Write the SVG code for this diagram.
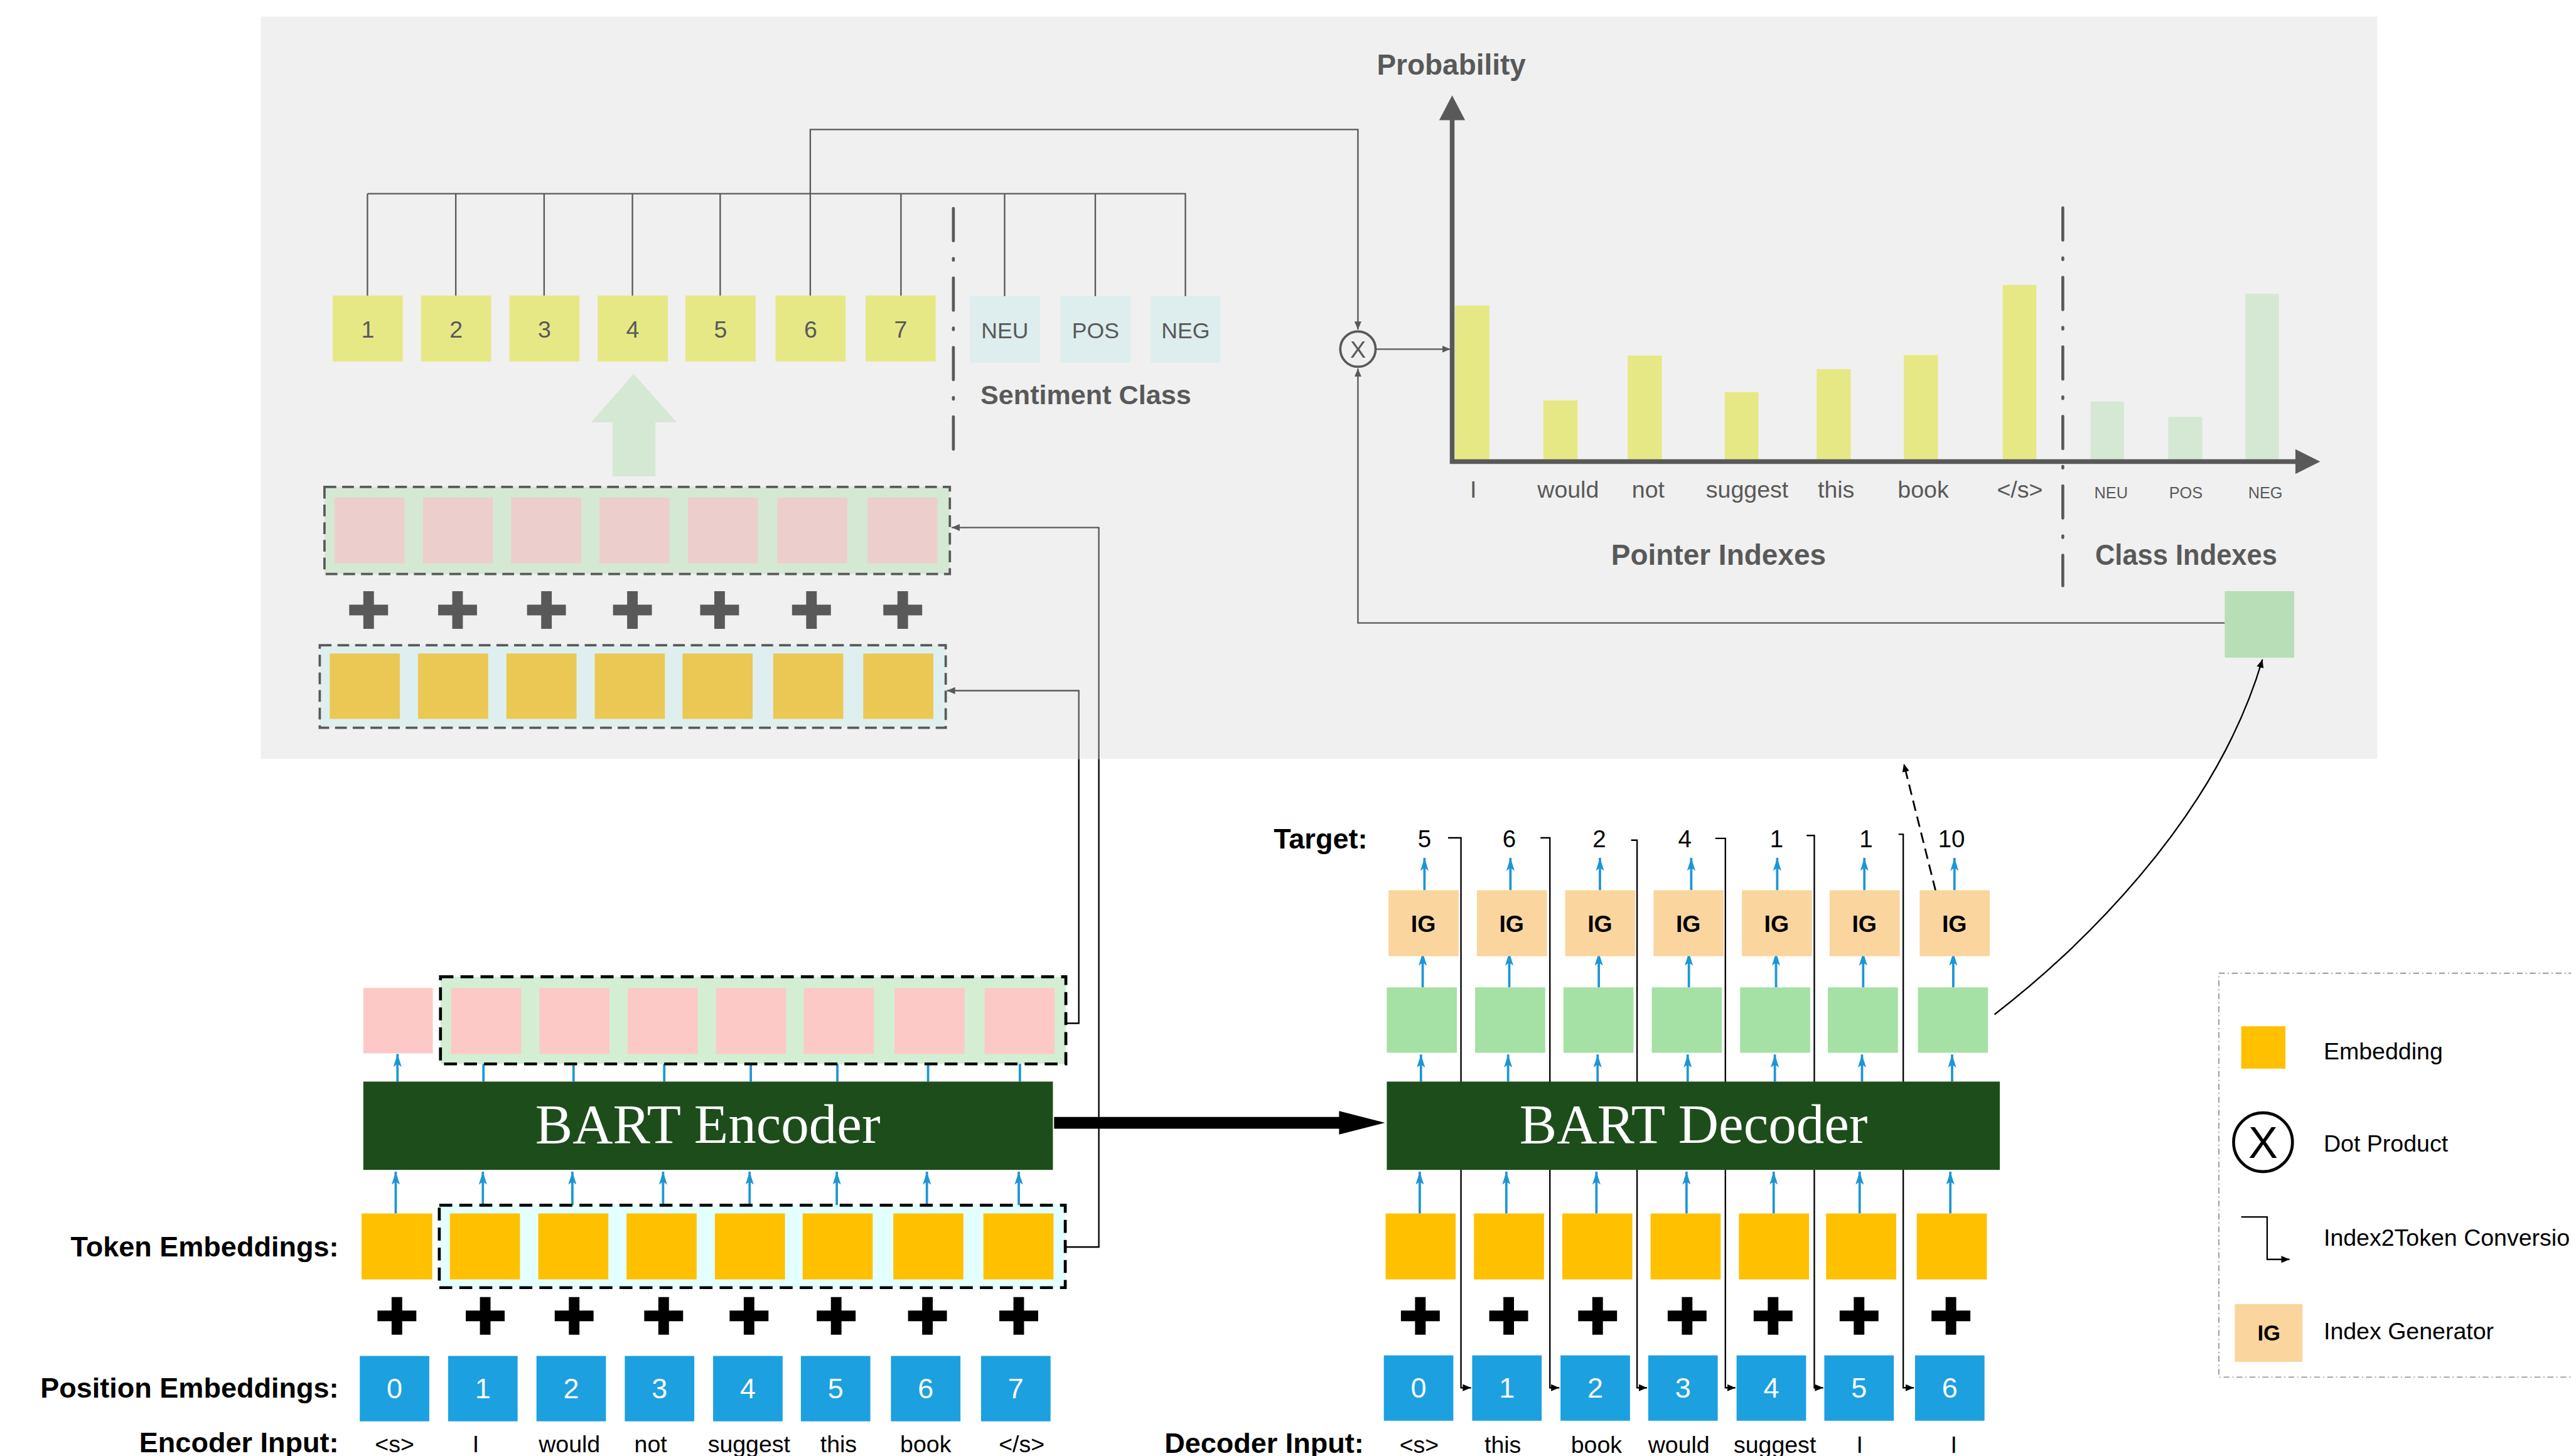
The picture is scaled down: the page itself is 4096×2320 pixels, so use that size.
<svg xmlns="http://www.w3.org/2000/svg" width="4096" height="2320" viewBox="0 0 4096 2320">
<defs>
<style>
.t{font-family:"Liberation Sans",Arial,sans-serif}
.s{font-family:"Liberation Serif","Times New Roman",serif;fill:#fff;font-size:95px}
.g{fill:#595959}
.k{fill:#000}
.w{fill:#fff}
.b{font-weight:bold}
.m{text-anchor:middle}
.e{text-anchor:end}
.blu path{stroke:#1C96D4;stroke-width:4;fill:none;marker-end:url(#ab)}
.gl{stroke:#595959;stroke-width:2.5;fill:none}
.bl{stroke:#000;stroke-width:2.5;fill:none}
.gd{stroke:#595959;stroke-width:4;stroke-dasharray:20 10}
.bd{stroke:#000;stroke-width:5;stroke-dasharray:22 12}
.dd{stroke:#595959;stroke-width:5;fill:none;stroke-dasharray:55 30 3 30;stroke-linecap:round}
.yg{fill:#E6E885}
.cl{fill:#DEEEEE}
.pp{fill:#ECCFCC}
.py{fill:#EBC853}
.pk{fill:#FCC9C6}
.yl{fill:#FFC000}
.bx{fill:#1CA0E0}
.gr{fill:#A5E0A5}
.ig{fill:#FAD59D}
.dk{fill:#1E4D1C}
</style>
<marker id="ab" markerUnits="userSpaceOnUse" viewBox="0 0 22 14" refX="22" refY="7" markerWidth="22" markerHeight="14" orient="auto"><path d="M0,0 L22,7 L0,14 L5,7z" fill="#1C96D4"/></marker>
<marker id="ag" markerUnits="userSpaceOnUse" viewBox="0 0 14 12" refX="14" refY="6" markerWidth="14" markerHeight="12" orient="auto"><path d="M0,0 L14,6 L0,12z" fill="#595959"/></marker>
<marker id="ak" markerUnits="userSpaceOnUse" viewBox="0 0 14 12" refX="14" refY="6" markerWidth="14" markerHeight="12" orient="auto"><path d="M0,0 L14,6 L0,12z" fill="#000"/></marker>
<path id="plus" d="M-9,-32h18v23h24v18h-24v23h-18v-23h-24v-18h24z"/>
</defs>
<rect width="4096" height="2320" fill="#fff"/>
<g transform="scale(0.93816)">
<rect id="panel" x="443" y="28" width="3594" height="1261" fill="#F0F0F0"/>

<g id="connectors">
<path class="gl" d="M624,329H2014M624,329V502M774,329V502M924,329V502M1074,329V502M1223,329V502M1530,329V502M1706,329V503M1860,329V503M2013,329V503"/>
<path class="gl" d="M1376,502V220H2306V560" marker-end="url(#ag)"/>
<path class="gl" d="M3778,1058H2306V626" marker-end="url(#ag)"/>
<path class="gl" d="M2337,593H2463" marker-end="url(#ag)"/>
<path class="bl" d="M1809,2118H1866V1289"/>
<path class="gl" d="M1866,1289V896H1616" marker-end="url(#ag)"/>
<path class="bl" d="M1810,1738H1832V1289"/>
<path class="gl" d="M1832,1289V1173H1608" marker-end="url(#ag)"/>
<path class="bl" d="M2459,1423H2481V2357H2498" marker-end="url(#ak)"/>
<path class="bl" d="M2616,1423H2632V2357H2648" marker-end="url(#ak)"/>
<path class="bl" d="M2770,1427H2780V2357H2797" marker-end="url(#ak)"/>
<path class="bl" d="M2913,1424H2930V2357H2947" marker-end="url(#ak)"/>
<path class="bl" d="M3068,1419H3081V2357H3096" marker-end="url(#ak)"/>
<path class="bl" d="M3224,1417H3232V2357H3250" marker-end="url(#ak)"/>
<path class="bl" d="M3387,1723C3520,1620 3760,1400 3842,1120" marker-end="url(#ak)"/>
<path d="M3287,1513L3233,1297" stroke="#000" stroke-width="3" fill="none" stroke-dasharray="18 10" marker-end="url(#ak)"/>
<path d="M1790,1897H2274V1887L2352,1907L2274,1927V1917H1790z" fill="#000"/>
<g class="blu">
<path d="M672,2061V1990"/><path d="M820,2047V1990"/><path d="M972,2047V1990"/><path d="M1126,2047V1990"/><path d="M1273,2047V1990"/><path d="M1421,2047V1990"/><path d="M1574,2047V1990"/><path d="M1730,2047V1990"/>
<path d="M675,1837V1790"/><path d="M821,1837V1786"/><path d="M974,1837V1786"/><path d="M1128,1837V1786"/><path d="M1275,1837V1786"/><path d="M1422,1837V1786"/><path d="M1576,1837V1786"/><path d="M1732,1837V1786"/>
<path d="M2411,2061V1990"/><path d="M2558,2061V1990"/><path d="M2711,2061V1990"/><path d="M2864,2061V1990"/><path d="M3012,2061V1990"/><path d="M3158,2061V1990"/><path d="M3312,2061V1990"/>
<path d="M2413,1837V1791"/><path d="M2561,1837V1791"/><path d="M2713,1837V1791"/><path d="M2866,1837V1791"/><path d="M3014,1837V1791"/><path d="M3162,1837V1791"/><path d="M3315,1837V1791"/>
<path d="M2416,1677V1618"/><path d="M2563,1677V1618"/><path d="M2715,1677V1618"/><path d="M2868,1677V1618"/><path d="M3016,1677V1618"/><path d="M3164,1677V1618"/><path d="M3317,1677V1618"/>
<path d="M2419,1512V1457"/><path d="M2565,1512V1457"/><path d="M2717,1512V1457"/><path d="M2872,1512V1457"/><path d="M3018,1512V1457"/><path d="M3166,1512V1457"/><path d="M3319,1512V1457"/>
</g>
</g>

<g id="pointer-boxes" class="t g">
<rect class="yg" x="565" y="502" width="119" height="112"/><rect class="yg" x="715" y="502" width="119" height="112"/><rect class="yg" x="865" y="502" width="119" height="112"/><rect class="yg" x="1015" y="502" width="119" height="112"/><rect class="yg" x="1164" y="502" width="119" height="112"/><rect class="yg" x="1317" y="502" width="119" height="112"/><rect class="yg" x="1470" y="502" width="119" height="112"/>
<g font-size="40" class="m"><text x="624.5" y="573">1</text><text x="774.5" y="573">2</text><text x="924.5" y="573">3</text><text x="1074.5" y="573">4</text><text x="1223.5" y="573">5</text><text x="1376.5" y="573">6</text><text x="1529.5" y="573">7</text></g>
</g>
<g id="class-boxes" class="t g">
<rect class="cl" x="1647" y="503" width="119" height="113"/><rect class="cl" x="1801" y="503" width="119" height="113"/><rect class="cl" x="1954" y="503" width="119" height="113"/>
<g font-size="38" class="m"><text x="1706.5" y="574">NEU</text><text x="1860.5" y="574">POS</text><text x="2013.5" y="574">NEG</text></g>
<text x="1665" y="686" font-size="46" class="b">Sentiment Class</text>
</g>
<path class="dd" d="M1619,354V771"/>
<polygon id="up-arrow" points="1076,635 1149,717 1113,717 1113,809 1040,809 1040,717 1004,717" fill="#D5E8D4"/>
<g id="panel-encoder-out">
<rect class="gd" x="551" y="827" width="1062" height="148" fill="#D5E8D4"/>
<rect class="pp" x="568" y="845" width="119" height="112"/><rect class="pp" x="718" y="845" width="119" height="112"/><rect class="pp" x="868" y="845" width="119" height="112"/><rect class="pp" x="1018" y="845" width="119" height="112"/><rect class="pp" x="1168" y="845" width="119" height="112"/><rect class="pp" x="1320" y="845" width="119" height="112"/><rect class="pp" x="1473" y="845" width="119" height="112"/>
</g>
<g id="panel-plus" class="g">
<use href="#plus" x="626" y="1036"/><use href="#plus" x="777" y="1036"/><use href="#plus" x="928" y="1036"/><use href="#plus" x="1074" y="1036"/><use href="#plus" x="1222" y="1036"/><use href="#plus" x="1378" y="1036"/><use href="#plus" x="1533" y="1036"/>
</g>
<g id="panel-embeddings">
<rect class="gd" x="543" y="1096" width="1063" height="140" fill="#DFEFEF"/>
<rect class="py" x="560" y="1110" width="119" height="111"/><rect class="py" x="710" y="1110" width="119" height="111"/><rect class="py" x="860" y="1110" width="119" height="111"/><rect class="py" x="1010" y="1110" width="119" height="111"/><rect class="py" x="1159" y="1110" width="119" height="111"/><rect class="py" x="1313" y="1110" width="119" height="111"/><rect class="py" x="1466" y="1110" width="119" height="111"/>
</g>

<g id="dot-product">
<circle cx="2306" cy="593" r="30" fill="none" stroke="#595959" stroke-width="4"/>
<text x="2306" y="608" class="t g m" font-size="40">X</text>
</g>

<g id="chart" class="t g">
<text x="2338" y="127" font-size="49" class="b">Probability</text>
<rect class="yg" x="2471" y="519" width="58" height="263"/>
<rect class="yg" x="2621" y="680" width="58" height="102"/>
<rect class="yg" x="2764" y="604" width="58" height="178"/>
<rect class="yg" x="2929" y="666" width="57" height="116"/>
<rect class="yg" x="3085" y="627" width="58" height="155"/>
<rect class="yg" x="3233" y="603" width="58" height="179"/>
<rect class="yg" x="3401" y="484" width="57" height="298"/>
<rect x="3550" y="682" width="57" height="100" fill="#D5E8D4"/>
<rect x="3682" y="708" width="58" height="74" fill="#D5E8D4"/>
<rect x="3813" y="499" width="57" height="283" fill="#D5E8D4"/>
<path d="M2466,786V200M2462,784H3900" stroke="#595959" stroke-width="8" fill="none"/>
<polygon points="2466,162 2488,204 2444,204"/>
<polygon points="3940,784 3898,763 3898,805"/>
<path class="dd" d="M3503,353V995"/>
<g font-size="40" class="m"><text x="2502" y="845">I</text><text x="2663" y="845">would</text><text x="2799" y="845">not</text><text x="2967" y="845">suggest</text><text x="3118" y="845">this</text><text x="3266" y="845">book</text><text x="3430" y="845">&lt;/s&gt;</text></g>
<g font-size="27" class="m"><text x="3585" y="846">NEU</text><text x="3712" y="846">POS</text><text x="3847" y="846">NEG</text></g>
<text x="2736" y="959" font-size="49" class="b">Pointer Indexes</text>
<text x="3558" y="959" font-size="49" class="b" textLength="309" lengthAdjust="spacingAndGlyphs">Class Indexes</text>
</g>
<rect id="class-output" x="3778" y="1004" width="118" height="113" fill="#B7DEB7"/>

<g id="encoder-output">
<rect class="pk" x="617" y="1678" width="118" height="111"/>
<rect class="bd" x="748" y="1659" width="1062" height="148" fill="#D3EED3"/>
<rect class="pk" x="766" y="1678" width="119" height="112"/><rect class="pk" x="916" y="1678" width="119" height="112"/><rect class="pk" x="1066" y="1678" width="119" height="112"/><rect class="pk" x="1216" y="1678" width="119" height="112"/><rect class="pk" x="1365" y="1678" width="119" height="112"/><rect class="pk" x="1519" y="1678" width="119" height="112"/><rect class="pk" x="1672" y="1678" width="119" height="112"/>
</g>
<g id="bart-encoder">
<rect class="dk" x="617" y="1837" width="1171" height="150"/>
<text x="1202" y="1941" class="s m">BART Encoder</text>
</g>
<g id="token-embeddings">
<text x="575" y="2134" class="t k b e" font-size="48">Token Embeddings:</text>
<rect class="yl" x="614" y="2061" width="120" height="112"/>
<rect class="bd" x="746" y="2047" width="1063" height="140" fill="#E3FFFF"/>
<rect class="yl" x="764" y="2061" width="119" height="112"/><rect class="yl" x="914" y="2061" width="119" height="112"/><rect class="yl" x="1064" y="2061" width="119" height="112"/><rect class="yl" x="1214" y="2061" width="119" height="112"/><rect class="yl" x="1363" y="2061" width="119" height="112"/><rect class="yl" x="1517" y="2061" width="119" height="112"/><rect class="yl" x="1670" y="2061" width="119" height="112"/>
</g>
<g id="encoder-plus" class="k">
<use href="#plus" x="674" y="2235"/><use href="#plus" x="824" y="2235"/><use href="#plus" x="975" y="2235"/><use href="#plus" x="1127" y="2235"/><use href="#plus" x="1272" y="2235"/><use href="#plus" x="1420" y="2235"/><use href="#plus" x="1575" y="2235"/><use href="#plus" x="1730" y="2235"/>
</g>
<g id="position-embeddings" class="t">
<text x="575" y="2374" class="k b e" font-size="48">Position Embeddings:</text>
<rect class="bx" x="611" y="2303" width="118" height="111"/><rect class="bx" x="761" y="2303" width="118" height="111"/><rect class="bx" x="911" y="2303" width="118" height="111"/><rect class="bx" x="1061" y="2303" width="118" height="111"/><rect class="bx" x="1211" y="2303" width="118" height="111"/><rect class="bx" x="1360" y="2303" width="118" height="111"/><rect class="bx" x="1513" y="2303" width="118" height="111"/><rect class="bx" x="1666" y="2303" width="118" height="111"/>
<g class="w m" font-size="48"><text x="670" y="2375">0</text><text x="820" y="2375">1</text><text x="970" y="2375">2</text><text x="1120" y="2375">3</text><text x="1270" y="2375">4</text><text x="1419" y="2375">5</text><text x="1572" y="2375">6</text><text x="1725" y="2375">7</text></g>
</g>
<g id="encoder-input" class="t k">
<text x="575" y="2466" class="b e" font-size="48">Encoder Input:</text>
<g class="m" font-size="40"><text x="670" y="2466">&lt;s&gt;</text><text x="808" y="2466">I</text><text x="967" y="2466">would</text><text x="1105" y="2466">not</text><text x="1272" y="2466">suggest</text><text x="1424" y="2466">this</text><text x="1572" y="2466">book</text><text x="1735" y="2466">&lt;/s&gt;</text></g>
</g>

<g id="target" class="t k">
<text x="2322" y="1441" class="b e" font-size="48">Target:</text>
<g class="m" font-size="41"><text x="2419" y="1439">5</text><text x="2563" y="1439">6</text><text x="2716" y="1439">2</text><text x="2861" y="1439">4</text><text x="3017" y="1439">1</text><text x="3169" y="1439">1</text><text x="3314" y="1439">10</text></g>
</g>
<g id="index-generators" class="t k">
<rect class="ig" x="2358" y="1512" width="119" height="112"/><rect class="ig" x="2508" y="1512" width="119" height="112"/><rect class="ig" x="2658" y="1512" width="119" height="112"/><rect class="ig" x="2808" y="1512" width="119" height="112"/><rect class="ig" x="2958" y="1512" width="119" height="112"/><rect class="ig" x="3107" y="1512" width="119" height="112"/><rect class="ig" x="3260" y="1512" width="119" height="112"/>
<g class="m b" font-size="40"><text x="2417" y="1583">IG</text><text x="2567" y="1583">IG</text><text x="2717" y="1583">IG</text><text x="2867" y="1583">IG</text><text x="3017" y="1583">IG</text><text x="3166" y="1583">IG</text><text x="3319" y="1583">IG</text></g>
</g>
<g id="decoder-output">
<rect class="gr" x="2355" y="1677" width="119" height="111"/><rect class="gr" x="2505" y="1677" width="119" height="111"/><rect class="gr" x="2655" y="1677" width="119" height="111"/><rect class="gr" x="2805" y="1677" width="119" height="111"/><rect class="gr" x="2955" y="1677" width="119" height="111"/><rect class="gr" x="3104" y="1677" width="119" height="111"/><rect class="gr" x="3257" y="1677" width="119" height="111"/>
</g>
<g id="bart-decoder">
<rect class="dk" x="2355" y="1837" width="1041" height="150"/>
<text x="2876" y="1941" class="s m">BART Decoder</text>
</g>
<g id="decoder-embeddings">
<rect class="yl" x="2353" y="2061" width="119" height="112"/><rect class="yl" x="2503" y="2061" width="119" height="112"/><rect class="yl" x="2653" y="2061" width="119" height="112"/><rect class="yl" x="2803" y="2061" width="119" height="112"/><rect class="yl" x="2953" y="2061" width="119" height="112"/><rect class="yl" x="3101" y="2061" width="119" height="112"/><rect class="yl" x="3255" y="2061" width="119" height="112"/>
</g>
<g id="decoder-plus" class="k">
<use href="#plus" x="2412" y="2235"/><use href="#plus" x="2562" y="2235"/><use href="#plus" x="2713" y="2235"/><use href="#plus" x="2865" y="2235"/><use href="#plus" x="3011" y="2235"/><use href="#plus" x="3157" y="2235"/><use href="#plus" x="3313" y="2235"/>
</g>
<g id="decoder-positions" class="t">
<rect class="bx" x="2350" y="2302" width="118" height="111"/><rect class="bx" x="2500" y="2302" width="118" height="111"/><rect class="bx" x="2650" y="2302" width="118" height="111"/><rect class="bx" x="2799" y="2302" width="118" height="111"/><rect class="bx" x="2949" y="2302" width="118" height="111"/><rect class="bx" x="3098" y="2302" width="118" height="111"/><rect class="bx" x="3252" y="2302" width="118" height="111"/>
<g class="w m" font-size="48"><text x="2409" y="2374">0</text><text x="2559" y="2374">1</text><text x="2709" y="2374">2</text><text x="2858" y="2374">3</text><text x="3008" y="2374">4</text><text x="3157" y="2374">5</text><text x="3311" y="2374">6</text></g>
</g>
<g id="decoder-input" class="t k">
<text x="2316" y="2468" class="b e" font-size="48">Decoder Input:</text>
<g class="m" font-size="40"><text x="2410" y="2468">&lt;s&gt;</text><text x="2552" y="2468">this</text><text x="2711" y="2468">book</text><text x="2851" y="2468">would</text><text x="3014" y="2468">suggest</text><text x="3158" y="2468">I</text><text x="3318" y="2468">I</text></g>
</g>

<g id="legend" class="t k">
<rect x="3768" y="1653" width="700" height="686" fill="none" stroke="#999" stroke-width="2" stroke-dasharray="10 5 2 5"/>
<rect class="yl" x="3806" y="1743" width="75" height="72"/>
<text x="3946" y="1799" font-size="40">Embedding</text>
<circle cx="3843" cy="1940" r="50" fill="none" stroke="#000" stroke-width="5"/>
<text x="3843" y="1967" font-size="75" class="m">X</text>
<text x="3946" y="1956" font-size="40">Dot Product</text>
<path class="bl" d="M3806,2067H3850V2139H3888" marker-end="url(#ak)"/>
<text x="3946" y="2116" font-size="40">Index2Token Conversio</text>
<rect class="ig" x="3795" y="2215" width="115" height="98"/>
<text x="3853" y="2277" font-size="37" class="m b">IG</text>
<text x="3946" y="2275" font-size="40">Index Generator</text>
</g>
</g>
</svg>
